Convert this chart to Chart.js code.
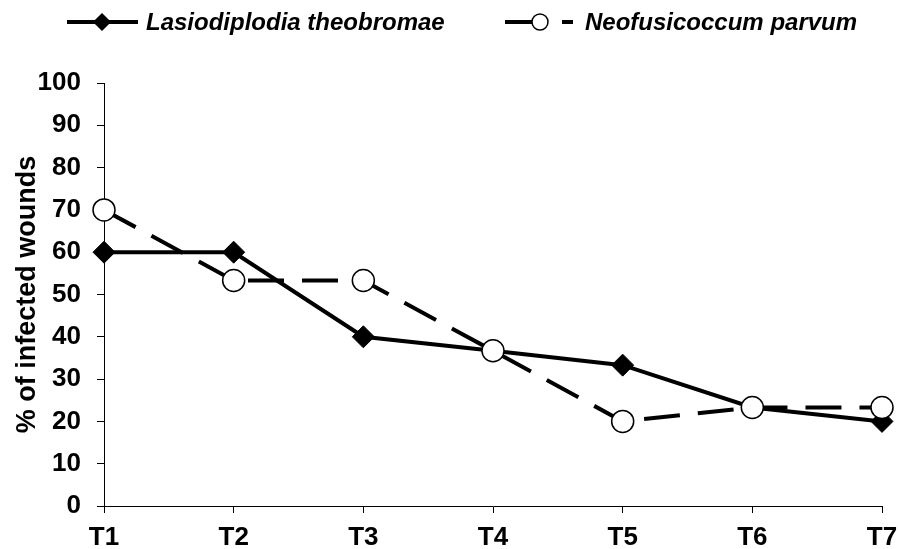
<!DOCTYPE html>
<html>
<head>
<meta charset="utf-8">
<script src="https://cdn.jsdelivr.net/npm/chart.js@4/dist/chart.umd.min.js"></script>
<style>
  html, body { margin: 0; padding: 0; background: #fff; }
  #wrap { width: 898px; height: 549px; }
</style>
</head>
<body>
<div id="wrap"><canvas id="chart" width="898" height="549"></canvas></div>
<script>
// chart data
const categories = ['T1', 'T2', 'T3', 'T4', 'T5', 'T6', 'T7'];
const lasiodiplodia = [60, 60, 40, 36.7, 33.3, 23.3, 20];
const neofusicoccum = [70, 53.3, 53.3, 36.7, 20, 23.3, 23.3];
const seriesNames = ['Lasiodiplodia theobromae', 'Neofusicoccum parvum'];
const yTicks = [0, 10, 20, 30, 40, 50, 60, 70, 80, 90, 100];

const FONT = '"Liberation Sans", Arial, sans-serif';

function drawMarker(ctx, style, cx, cy, r) {
  ctx.lineWidth = 1.5;
  ctx.strokeStyle = '#000';
  ctx.beginPath();
  if (style === 'rectRot') {
    ctx.fillStyle = '#000';
    ctx.moveTo(cx, cy - r);
    ctx.lineTo(cx + r, cy);
    ctx.lineTo(cx, cy + r);
    ctx.lineTo(cx - r, cy);
    ctx.closePath();
  } else {
    ctx.fillStyle = '#fff';
    ctx.arc(cx, cy, r, 0, Math.PI * 2);
  }
  ctx.fill();
  ctx.stroke();
}

// legend drawn by hand: line sample with the marker on it
const lineLegend = {
  id: 'lineLegend',
  afterDraw(chart) {
    const ctx = chart.ctx;
    const y = 22;
    const ds = chart.data.datasets;
    ctx.save();
    ctx.strokeStyle = '#000';
    ctx.lineWidth = 4;
    ctx.lineCap = 'butt';

    // solid one
    ctx.beginPath();
    ctx.moveTo(67, y);
    ctx.lineTo(138, y);
    ctx.stroke();
    drawMarker(ctx, ds[0].pointStyle, 102, y, 8);

    // dashed one
    ctx.lineWidth = 4;
    ctx.beginPath();
    ctx.moveTo(505, y);
    ctx.lineTo(540, y);
    ctx.moveTo(562, y);
    ctx.lineTo(573, y);
    ctx.stroke();
    drawMarker(ctx, ds[1].pointStyle, 540, y, 8);

    ctx.fillStyle = '#000';
    ctx.font = 'italic bold 24px ' + FONT;
    ctx.textBaseline = 'middle';
    ctx.textAlign = 'left';
    ctx.fillText(ds[0].label, 146, y + 1);
    ctx.fillText(ds[1].label, 585, y + 1);
    ctx.restore();
  }
};

new Chart(document.getElementById('chart'), {
  type: 'line',
  data: {
    labels: categories,
    datasets: [
      {
        label: seriesNames[0],
        data: lasiodiplodia,
        borderColor: '#000',
        borderWidth: 4,
        pointStyle: 'rectRot',
        pointRadius: 11,
        pointBackgroundColor: '#000',
        pointBorderColor: '#000',
        pointBorderWidth: 1,
        tension: 0,
        order: 2
      },
      {
        label: seriesNames[1],
        data: neofusicoccum,
        borderColor: '#000',
        borderWidth: 4,
        borderDash: [36, 18],
        pointStyle: 'circle',
        pointRadius: 11,
        pointBackgroundColor: '#fff',
        pointBorderColor: '#000',
        pointBorderWidth: 1.5,
        tension: 0,
        order: 1
      }
    ]
  },
  options: {
    responsive: false,
    animation: false,
    layout: { padding: { top: 83, right: 16, left: 0, bottom: 0 } },
    plugins: {
      legend: { display: false },
      tooltip: { enabled: false }
    },
    scales: {
      x: {
        offset: false,
        grid: { drawOnChartArea: false, color: '#000', tickLength: 7, tickColor: '#000' },
        border: { color: '#000', width: 1 },
        ticks: { color: '#000', font: { family: FONT, size: 26, weight: 'bold' }, padding: 9, maxRotation: 0 },
        afterFit(scale) {
          scale.height = 43;
          scale.paddingLeft = 0;
          scale.paddingRight = 0;
        }
      },
      y: {
        min: 0,
        max: 100,
        afterBuildTicks(scale) { scale.ticks = yTicks.map(v => ({ value: v })); },
        grid: { drawOnChartArea: false, color: '#000', tickLength: 7, tickColor: '#000' },
        border: { color: '#000', width: 1 },
        ticks: { color: '#000', font: { family: FONT, size: 26, weight: 'bold' }, padding: 16 },
        title: {
          display: true,
          text: '% of infected wounds',
          color: '#000',
          font: { family: FONT, size: 27, weight: 'bold' },
          padding: { top: 11, bottom: 0 }
        },
        afterFit(scale) {
          scale.width = 104;
          scale.paddingTop = 0;
          scale.paddingBottom = 0;
        }
      }
    }
  },
  plugins: [lineLegend]
});
</script>
</body>
</html>
